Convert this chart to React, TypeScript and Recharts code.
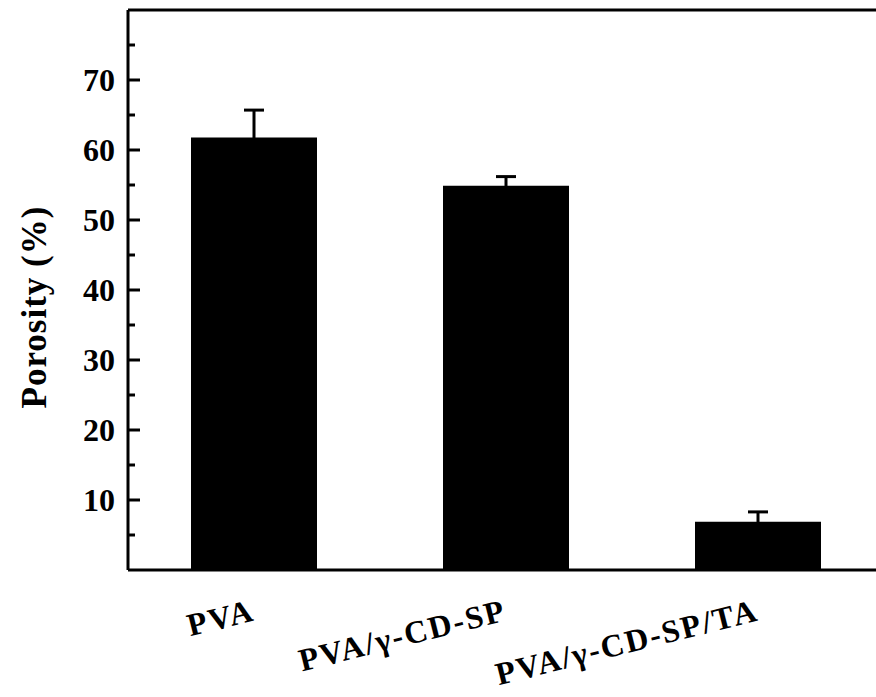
import { BarChart, Bar, XAxis, YAxis, ErrorBar, ReferenceLine } from "recharts";

const samples = ["PVA", "PVA/γ-CD-SP", "PVA/γ-CD-SP/TA"];
const porosity = [61.8, 54.9, 6.9];
const porosityErr = [3.9, 1.3, 1.4];
const yTicks = [5, 10, 15, 20, 25, 30, 35, 40, 45, 50, 55, 60, 65, 70, 75];

const chartData = samples.map((name, i) => ({
  name,
  value: porosity[i],
  err: porosityErr[i],
}));

const FONT = "'Liberation Serif', 'Times New Roman', serif";

function YTick(props: any) {
  const { x, y, payload } = props;
  const major = payload.value % 10 === 0;
  return (
    <g>
      <line x1={x} x2={x + (major ? 12 : 7)} y1={y} y2={y} stroke="#000" strokeWidth={3} />
      {major && (
        <text
          x={x - 13}
          y={y}
          dy="0.35em"
          textAnchor="end"
          fontFamily={FONT}
          fontWeight="bold"
          fontSize={32}
          fill="#000"
        >
          {payload.value}
        </text>
      )}
    </g>
  );
}

function XTick(props: any) {
  const { x, y, payload } = props;
  const tx = x + 2;
  const ty = y + 50;
  return (
    <text
      x={tx}
      y={ty}
      textAnchor="end"
      transform={`rotate(-14, ${tx}, ${ty})`}
      fontFamily={FONT}
      fontWeight="bold"
      fontSize={32}
      letterSpacing={2}
      fill="#000"
    >
      {payload.value}
    </text>
  );
}

export default function App() {
  return (
    <div
      style={{
        position: "absolute",
        left: 0,
        top: 0,
        width: 876,
        height: 697,
        overflow: "hidden",
        background: "#fff",
      }}
    >
      <BarChart
        width={900}
        height={697}
        data={chartData}
        margin={{ top: 10, right: 16, left: 0, bottom: 0 }}
        barCategoryGap="25%"
      >
        <XAxis
          dataKey="name"
          height={127}
          axisLine={{ stroke: "#000", strokeWidth: 3 }}
          tickLine={false}
          tickSize={0}
          tickMargin={0}
          tick={<XTick />}
          interval={0}
        />
        <YAxis
          width={128}
          domain={[0, 80]}
          ticks={yTicks}
          interval={0}
          allowDataOverflow
          axisLine={{ stroke: "#000", strokeWidth: 3 }}
          tickLine={false}
          tickSize={0}
          tickMargin={0}
          tick={<YTick />}
        />
        <ReferenceLine y={80} stroke="#000" strokeWidth={3} ifOverflow="visible" />
        <text
          x={34}
          y={307}
          transform="rotate(-90, 34, 307)"
          textAnchor="middle"
          dy="0.35em"
          fontFamily={FONT}
          fontWeight="bold"
          fontSize={35}
          letterSpacing={1}
          fill="#000"
        >
          Porosity (%)
        </text>
        <Bar dataKey="value" fill="#000" isAnimationActive={false}>
          <ErrorBar
            dataKey="err"
            direction="y"
            width={10}
            stroke="#000"
            strokeWidth={3}
            isAnimationActive={false}
          />
        </Bar>
      </BarChart>
    </div>
  );
}
